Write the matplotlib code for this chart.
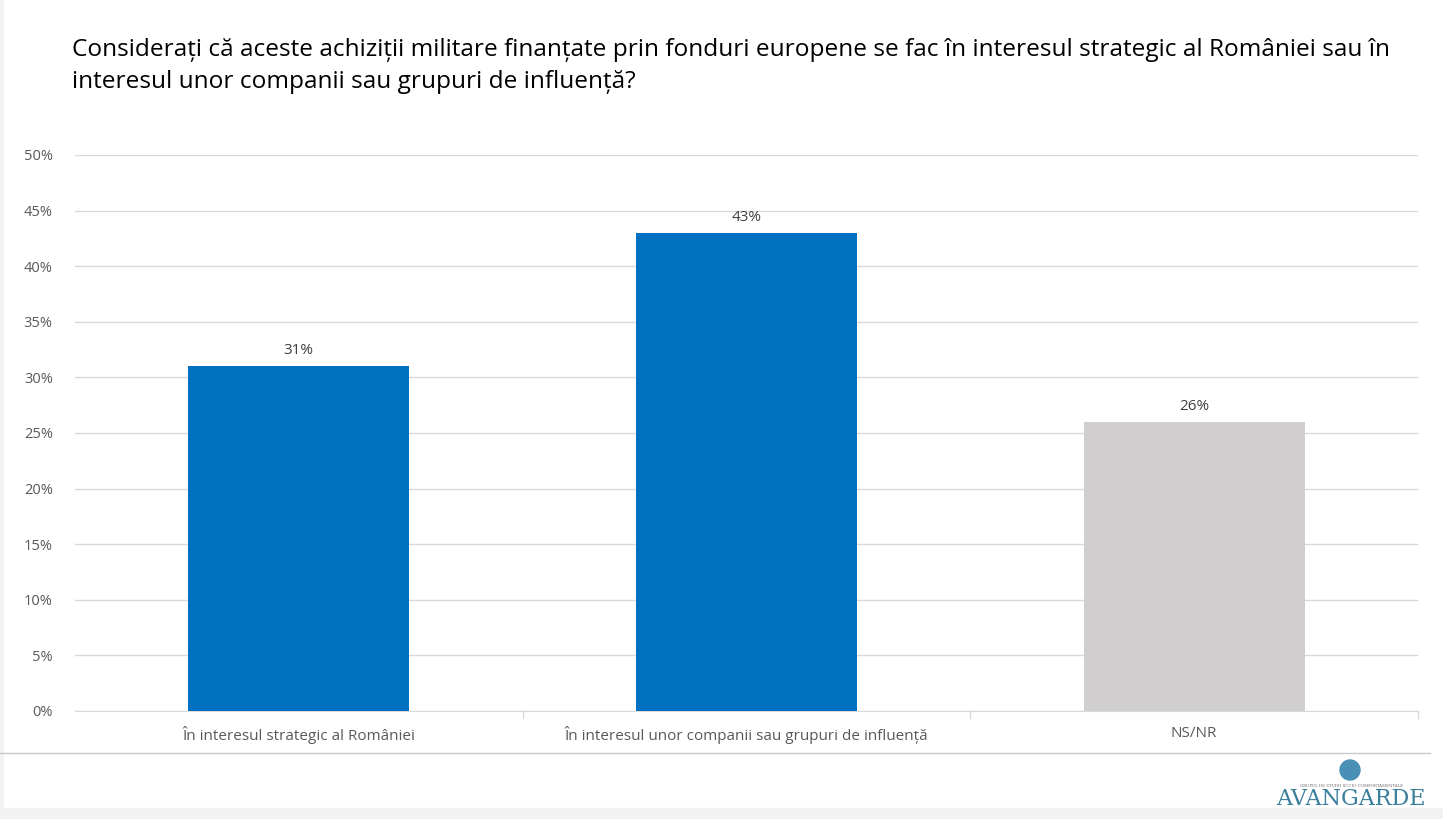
import matplotlib.pyplot as plt
import numpy as np
from matplotlib.patches import Ellipse

categorii = ['În interesul strategic al României',
             'În interesul unor companii sau grupuri de influență',
             'NS/NR']
valori = [31, 43, 26]
culori = ['#0070C0', '#0070C0', '#D0CECE']
titlu = ('Considerați că aceste achiziții militare finanțate prin fonduri europene se fac în interesul strategic al României sau în\n'
         'interesul unor companii sau grupuri de influență?')
yticks = [0, 5, 10, 15, 20, 25, 30, 35, 40, 45, 50]

plt.rcParams['font.family'] = ['Open Sans', 'DejaVu Sans']

fig = plt.figure(figsize=(14.43, 8.19), dpi=100)
fig.set_facecolor('white')

W, H = 1443, 819
ax = fig.add_axes([75 / W, 1 - 711 / H, (1418 - 75) / W, (711 - 155) / H])

x = np.arange(len(categorii))
bars = ax.bar(x, valori, 0.494, color=culori, zorder=3)
ax.set_xlim(-0.5, 2.5)
ax.set_ylim(0, 50)
ax.set_yticks(yticks)
ax.set_yticklabels(['{}%'.format(v) for v in yticks], fontsize=10.5, color='#595959')
ax.set_xticks(x)
ax.set_xticklabels(categorii, fontsize=11, color='#595959')
ax.tick_params(axis='y', length=0, pad=16)
ax.tick_params(axis='x', length=0, pad=11)
ax.grid(axis='y', color='#D9D9D9', linewidth=1, zorder=0)
for s in ['top', 'right', 'left']:
    ax.spines[s].set_visible(False)
ax.spines['bottom'].set_color('#D9D9D9')
# mici semne intre categorii
for b in [0.5, 1.5, 2.5]:
    ax.plot([b, b], [0, -0.6], color='#D9D9D9', lw=1, clip_on=False)

ax.bar_label(bars, labels=['{}%'.format(v) for v in valori], padding=6,
             fontsize=11, color='#404040')

fig.text(72 / W, 1 - 66 / H, titlu, fontsize=17.6, color='black',
         va='center', ha='left', linespacing=1.5)

# linia de jos si banda gri
fig.add_artist(plt.Line2D([0, 1430 / W], [1 - 753 / H] * 2, color='#C8C8C8', lw=1))
fig.add_artist(plt.Rectangle((0, 0), 1, 11 / H, color='#F2F2F2', transform=fig.transFigure))
fig.add_artist(plt.Rectangle((0, 0), 3 / W, 1, color='#F2F2F2', transform=fig.transFigure))

# logo
fig.text(1351 / W, 1 - 805 / H, 'AVANGARDE', fontsize=16, family='DejaVu Serif',
         color='#3B7F9C', ha='center', va='baseline')
fig.text(1351 / W, 1 - 787 / H, 'GRUPUL DE STUDII SOCIO-COMPORTAMENTALE', fontsize=2.8,
         family='DejaVu Serif', color='#666666', ha='center', va='baseline')
fig.add_artist(Ellipse((1350 / W, 1 - 770 / H), 20 / W, 20 / H, transform=fig.transFigure,
                       color='#4A8FB5'))

plt.savefig('out.png', dpi=100, facecolor='white')
